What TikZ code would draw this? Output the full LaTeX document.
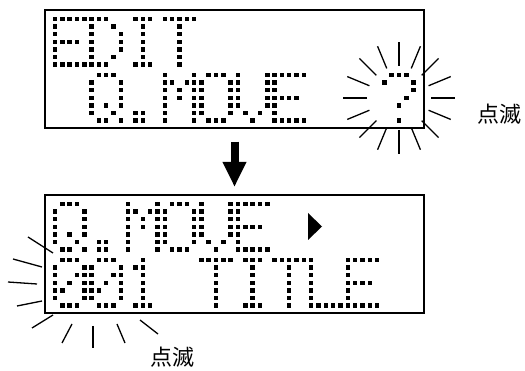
\documentclass[tikz,border=0pt]{standalone}
\usepackage{fontspec}
\newfontfamily\jpfont{Noto Sans CJK JP}
\usetikzlibrary{calc,arrows.meta}

% 5x7 dot glyphs, one binary row per entry (top to bottom)
\def\glE{11111,10000,10000,11110,10000,10000,11111}
\def\glD{11100,10010,10001,10001,10001,10010,11100}
\def\glI{01110,00100,00100,00100,00100,00100,01110}
\def\glT{11111,00100,00100,00100,00100,00100,00100}
\def\glQ{01110,10001,10001,10001,10101,10010,01101}
\def\glDot{00000,00000,00000,00000,00000,01100,01100}
\def\glM{10001,11011,10101,10101,10001,10001,10001}
\def\glO{01110,10001,10001,10001,10001,10001,01110}
\def\glV{10001,10001,10001,10001,10001,01010,00100}
\def\glQm{01110,10001,00001,00010,00100,00000,00100}
\def\glZero{01110,10001,10011,10101,11001,10001,01110}
\def\glOne{00100,01100,00100,00100,00100,00100,01110}
\def\glL{10000,10000,10000,10000,10000,10000,11111}

% #1 box node, #2 cell, #3 line, #4 glyph
\newcommand{\lcdchar}[4]{%
  \foreach \row [count=\j] in #4 {
    \pgfmathtruncatemacro\bits{0b\row}
    \foreach \c in {1,...,5} {
      \pgfmathtruncatemacro\bit{mod(floor(\bits/2^(5-\c)),2)}
      \ifnum\bit=1
        \fill ($(#1.north west)+(10+36.6*#2+7.32*\c-7.32,9+56*#3+7.6*\j-7.6)$)
          +(-2.25,-2.25) rectangle +(2.25,2.25);
      \fi
    }
  }}

\tikzset{
  lcdbox/.style={draw, line width=2.6pt, minimum width=379pt, minimum height=118pt,
    inner sep=0pt, outer sep=0pt},
  ray/.style={line width=1.3pt},
  bigarrow/.style={line width=8pt, -{Triangle[width=22pt,length=25pt]}},
  blinklabel/.style={font=\jpfont\fontsize{22}{22}\selectfont, inner sep=0pt}
}

\begin{document}
\begin{tikzpicture}[x=1pt, y=-1pt]
  \useasboundingbox[fill=white] (0,0) rectangle (525,371);
  % Display before
  \node[lcdbox] (edit) at (234.5,69) {};
  \lcdchar{edit}{0}{0}{\glE}
  \lcdchar{edit}{1}{0}{\glD}
  \lcdchar{edit}{2}{0}{\glI}
  \lcdchar{edit}{3}{0}{\glT}
  \lcdchar{edit}{1}{1}{\glQ}
  \lcdchar{edit}{2}{1}{\glDot}
  \lcdchar{edit}{3}{1}{\glM}
  \lcdchar{edit}{4}{1}{\glO}
  \lcdchar{edit}{5}{1}{\glV}
  \lcdchar{edit}{6}{1}{\glE}
  \lcdchar{edit}{9}{1}{\glQm}
  % Display after
  \node[lcdbox] (qmove) at (234.5,254) {};
  \lcdchar{qmove}{0}{0}{\glQ}
  \lcdchar{qmove}{1}{0}{\glDot}
  \lcdchar{qmove}{2}{0}{\glM}
  \lcdchar{qmove}{3}{0}{\glO}
  \lcdchar{qmove}{4}{0}{\glV}
  \lcdchar{qmove}{5}{0}{\glE}
  \fill ($(qmove.north west)+(263,18)$) -- ++(0,27) -- ++(14,-13.5) -- cycle;
  \lcdchar{qmove}{0}{1}{\glZero}
  \lcdchar{qmove}{1}{1}{\glZero}
  \lcdchar{qmove}{2}{1}{\glOne}
  \lcdchar{qmove}{4}{1}{\glT}
  \lcdchar{qmove}{5}{1}{\glI}
  \lcdchar{qmove}{6}{1}{\glT}
  \lcdchar{qmove}{7}{1}{\glL}
  \lcdchar{qmove}{8}{1}{\glE}
  % Arrow
  \draw[bigarrow] ([yshift=-13.7pt]edit.south) -- ([yshift=8pt]qmove.north);
  % Blinking marks
  \coordinate (blink1) at (399,98);
  \foreach \a in {0,22.5,...,337.5}
    \draw[ray] ($(blink1)+(\a:32)$) -- ($(blink1)+(\a:56)$);
  \node[blinklabel] (lbl1) at (499,114) {点滅};
  \coordinate (blink2) at (93,283);
  \foreach \a/\b/\c/\d in {-40/-30/-65/-46, -51/-16/-80/-24, -56/1/-85/-1,
      -51/18/-76/23, -40/32/-61/45, -21/41/-31/60, 0/43/0/65, 24/41/32/60, 47/37/65/51}
    \draw[ray] ($(blink2)+(\a,\b)$) -- ($(blink2)+(\c,\d)$);
  \node[blinklabel] (lbl2) at (172,357) {点滅};
\end{tikzpicture}
\end{document}
